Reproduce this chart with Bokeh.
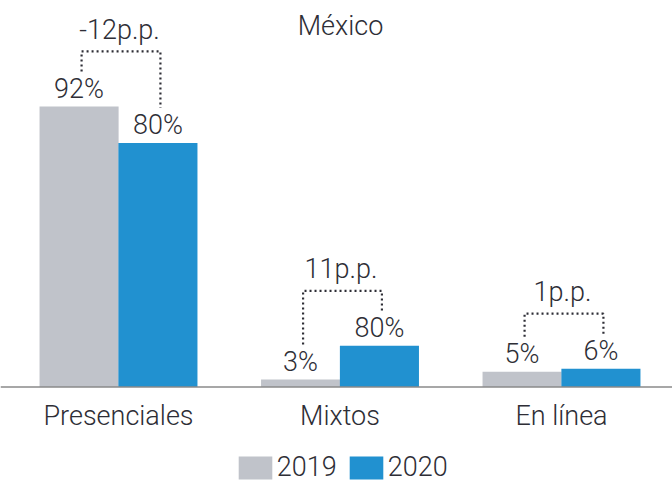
from bokeh.plotting import figure
from bokeh.models import Range1d, Span, Legend, LegendItem
from bokeh.core.properties import value
from bokeh.embed import file_html
from bokeh.resources import INLINE

# ---- data ----
categories = ["Presenciales", "Mixtos", "En línea"]
series_names = ["2019", "2020"]
values_2019 = [92, 2.5, 5]
values_2020 = [80, 13.5, 6]
labels_2019 = ["92%", "3%", "5%"]
labels_2020 = ["80%", "80%", "6%"]
diff_labels = ["-12p.p.", "11p.p.", "1p.p."]
title_text = "México"

# ---- style ----
FONT_NAME = "Roboto Light, Roboto"
FONT = value(FONT_NAME)
TXT = "#2e2e36"
GRAY = "#c0c3ca"
BLUE = "#2191d0"
FS = "27px"

W, H = 672, 482
BASE_PX = 386.5          # baseline position from top of figure (px)
PPU = 3.05               # pixels per percentage unit
PX = 1.0 / PPU           # data units per pixel
STEP = 221.5             # px per category
X0 = 118.0               # px of first category centre
BAR_W = 0.357
DODGE = 0.178
HALF_CAP = 9.6           # px from baseline to centre of caps

x_range = Range1d(-X0 / STEP, (W - X0) / STEP)
y_range = Range1d(-(H - BASE_PX) * PX, BASE_PX * PX)

p = figure(width=W, height=H, x_range=x_range, y_range=y_range,
           output_backend="svg", toolbar_location=None,
           x_axis_type=None, y_axis_type=None,
           min_border=0, min_border_left=0, min_border_right=0,
           min_border_top=0, min_border_bottom=0)
p.grid.visible = False
p.outline_line_color = None
p.background_fill_color = "white"
p.border_fill_color = "white"

idx = list(range(len(categories)))
x19 = [i - DODGE for i in idx]
x20 = [i + DODGE for i in idx]

r19 = p.vbar(x=x19, top=values_2019, width=BAR_W, bottom=0,
             fill_color=GRAY, line_color=None)
r20 = p.vbar(x=x20, top=values_2020, width=BAR_W, bottom=0,
             fill_color=BLUE, line_color=None)

# baseline
p.add_layout(Span(location=0, dimension="width", line_color="#8a8a8a", line_width=1.6))

txt_kw = dict(text_align="center", text_baseline="middle",
              text_font=FONT, text_font_size=FS, text_color=TXT)

# category labels (baseline 38.5px below axis)
p.text(x=idx, y=[-(38.5 - HALF_CAP) * PX] * len(idx), text=categories, **txt_kw)

# value labels (baseline 8px above bar)
p.text(x=x19, y=[v + (8 + HALF_CAP) * PX for v in values_2019], text=labels_2019, **txt_kw)
p.text(x=x20, y=[v + (8 + HALF_CAP) * PX for v in values_2020], text=labels_2020, **txt_kw)

# brackets
xs, ys, lx, ly = [], [], [], []
shift = 2.5 / STEP
for i in idx:
    a, b = values_2019[i], values_2020[i]
    xl, xr = x19[i] + shift, x20[i] + shift
    h = max(a, b) + 55 * PX
    xs.append([xl, xl, xr, xr])
    ys.append([a + 35 * PX, h, h, b + 35 * PX])
    lx.append((xl + xr) / 2 - 1.5 / STEP)
    ly.append(h + (12 + HALF_CAP) * PX)
p.multi_line(xs=xs, ys=ys, line_color=TXT, line_width=2.2, line_dash="2 3")
p.text(x=lx, y=ly, text=diff_labels, **txt_kw)

# title (baseline 35px from top)
p.text(x=[(W / 2 - X0 + 4) / STEP], y=[(BASE_PX - 35 + HALF_CAP) * PX], text=[title_text], **txt_kw)

# legend
legend = Legend(items=[LegendItem(label=series_names[0], renderers=[r19]),
                       LegendItem(label=series_names[1], renderers=[r20])],
                orientation="horizontal", location=(233.8, -1),
                glyph_width=42, glyph_height=29, label_standoff=1, spacing=8,
                padding=0, margin=0, border_line_color=None,
                background_fill_alpha=0,
                label_text_font=FONT_NAME, label_text_font_size=FS,
                label_text_color=TXT)
p.add_layout(legend, "center")

open("out.html", "w").write(file_html(p, INLINE))
